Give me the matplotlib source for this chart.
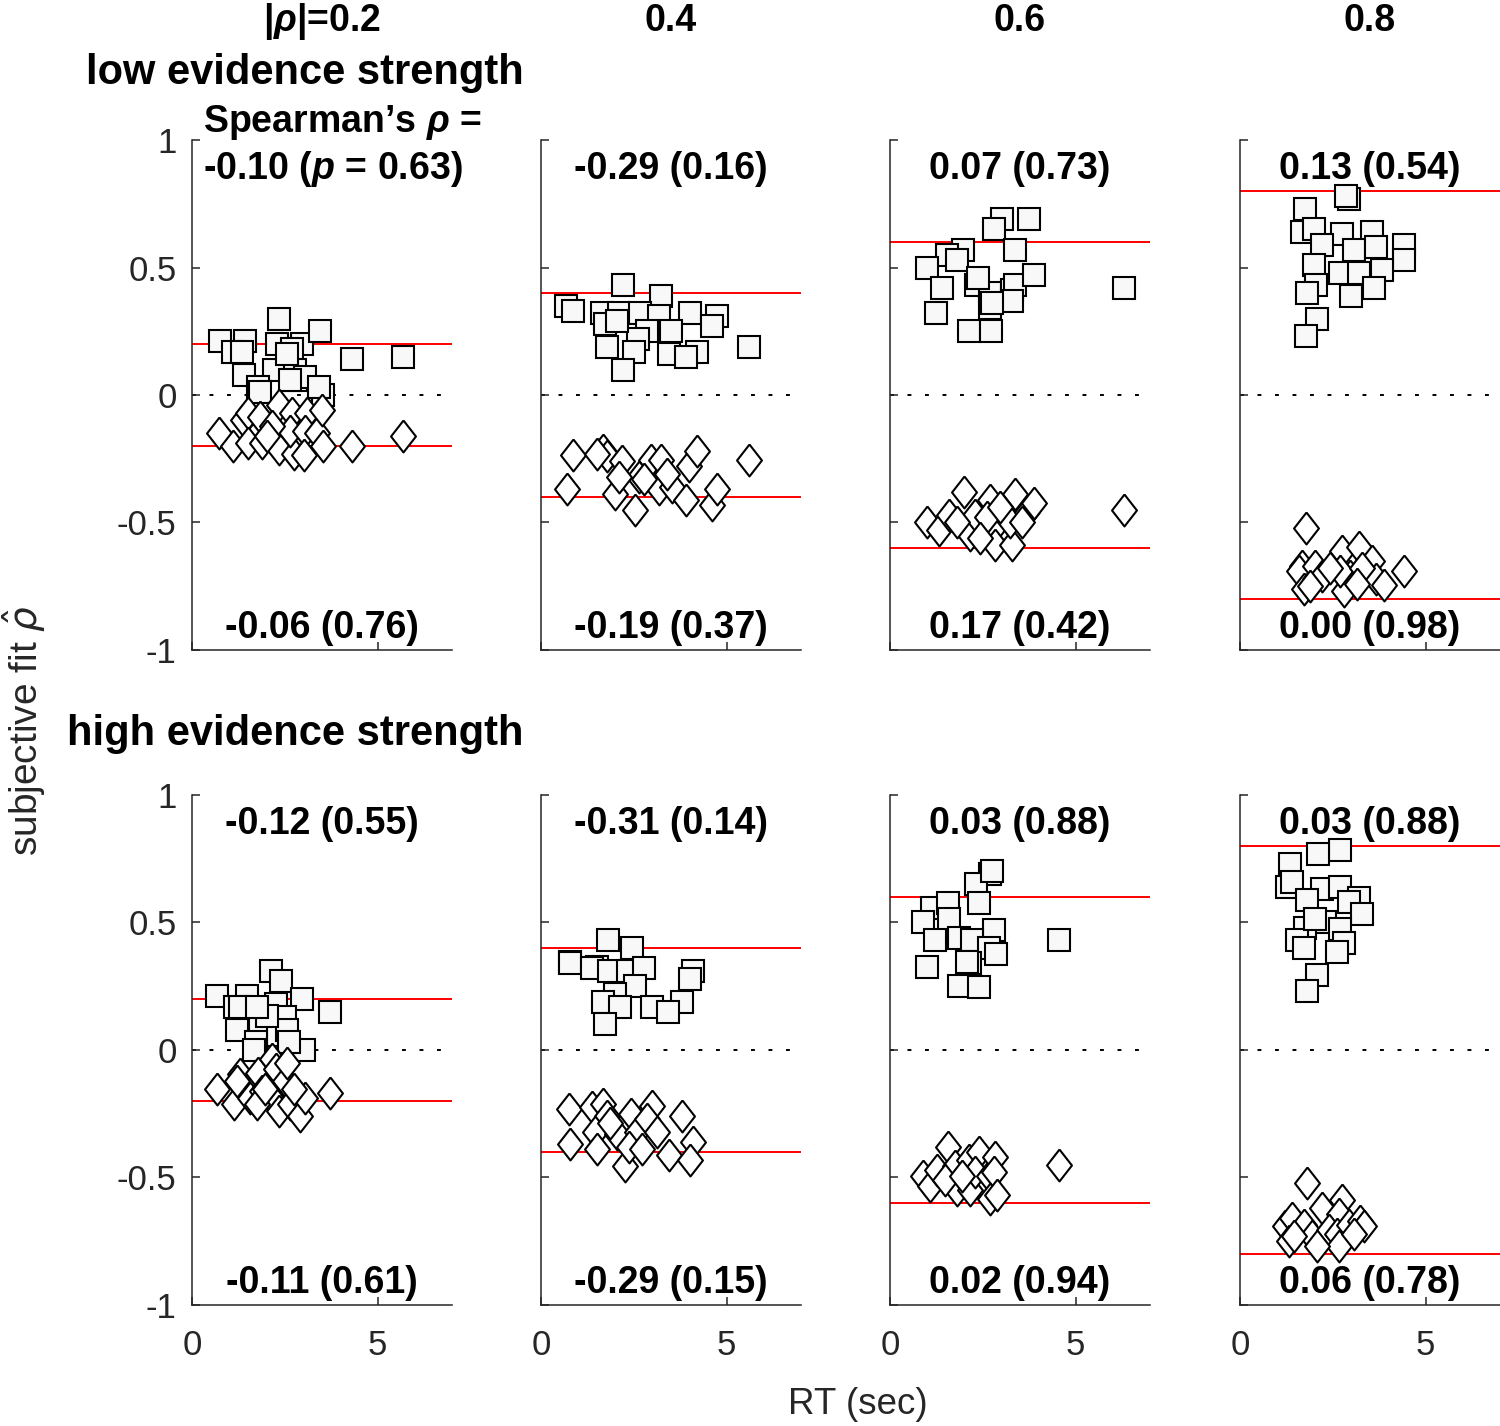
#! /usr/bin/env python

import matplotlib
matplotlib.use('Agg')
import matplotlib.pyplot as plt

# Subjective fit rho-hat against RT for each true |rho| and evidence
# strength; squares are positive-correlation trials, diamonds negative.


#=====================================================================
#     User variables
#
rhoLevels   = [0.2, 0.4, 0.6, 0.8]
colHeaders  = [r'|$\rho$|=0.2', '0.4', '0.6', '0.8']
rowTitles   = ['low evidence strength', 'high evidence strength']

# Spearman's rho (p) printed above (squares) and below (diamonds)
lowTopText  = ['-0.10 ($p$ = 0.63)', '-0.29 (0.16)', '0.07 (0.73)', '0.13 (0.54)']
lowBotText  = ['-0.06 (0.76)', '-0.19 (0.37)', '0.17 (0.42)', '0.00 (0.98)']
highTopText = ['-0.12 (0.55)', '-0.31 (0.14)', '0.03 (0.88)', '0.03 (0.88)']
highBotText = ['-0.11 (0.61)', '-0.29 (0.15)', '0.02 (0.94)', '0.06 (0.78)']

# low evidence, |rho| = 0.2
low02_sq_rt   = [2.35, 0.76, 1.43, 1.10, 1.34, 2.30, 2.96, 3.44, 2.68, 4.30, 5.67,
                 1.41, 2.20, 2.78, 2.81, 3.05, 1.79, 2.65, 3.53, 3.41, 2.56, 1.84]
low02_sq_fit  = [0.30, 0.21, 0.21, 0.17, 0.17, 0.20, 0.20, 0.25, 0.18, 0.14, 0.15,
                 0.08, 0.10, 0.10, 0.06, 0.07, 0.03, 0.06, 0.00, 0.03, 0.16, 0.01]
low02_di_rt   = [0.74, 1.10, 1.37, 1.52, 1.84, 1.52, 1.88, 2.33, 2.69, 3.10, 2.33,
                 2.74, 2.65, 3.05, 3.37, 3.53, 4.30, 5.67, 3.01, 2.15, 3.50, 2.02]
low02_di_fit  = [-0.15, -0.20, -0.10, -0.07, -0.085, -0.19, -0.19, -0.04, -0.07, -0.07, -0.21,
                 -0.23, -0.14, -0.14, -0.15, -0.20, -0.20, -0.16, -0.235, -0.12, -0.06, -0.16]

# low evidence, |rho| = 0.4
low04_sq_rt   = [0.68, 0.87, 2.21, 3.23, 1.64, 1.73, 2.09, 2.66, 3.17, 4.01, 4.75, 4.61,
                 3.49, 2.86, 2.60, 1.78, 2.49, 3.44, 4.19, 3.91, 5.60, 2.21, 2.05]
low04_sq_fit  = [0.35, 0.33, 0.43, 0.39, 0.32, 0.28, 0.32, 0.32, 0.31, 0.32, 0.31, 0.27,
                 0.25, 0.25, 0.22, 0.19, 0.17, 0.16, 0.17, 0.15, 0.19, 0.10, 0.29]
low04_di_rt   = [0.87, 0.69, 1.68, 1.78, 2.18, 2.00, 2.54, 2.63, 2.95, 3.22, 3.17,
                 3.53, 3.89, 3.98, 4.19, 4.61, 4.75, 5.60, 2.09, 2.76, 3.40, 1.50]
low04_di_fit  = [-0.235, -0.37, -0.215, -0.24, -0.26, -0.39, -0.45, -0.32, -0.255, -0.255, -0.37,
                 -0.36, -0.41, -0.28, -0.22, -0.43, -0.37, -0.255, -0.32, -0.33, -0.31, -0.23]

# low evidence, |rho| = 0.6
low06_sq_rt   = [3.02, 3.74, 2.79, 1.98, 1.53, 3.38, 1.80, 0.99, 1.40, 2.32, 2.70,
                 3.29, 3.38, 3.89, 6.31, 1.24, 2.70, 3.29, 2.14, 2.72, 2.36, 2.75]
low06_sq_fit  = [0.69, 0.69, 0.65, 0.57, 0.55, 0.57, 0.53, 0.50, 0.42, 0.43, 0.40,
                 0.41, 0.43, 0.47, 0.42, 0.32, 0.34, 0.37, 0.25, 0.25, 0.46, 0.36]
low06_di_rt   = [0.99, 1.31, 1.58, 2.00, 2.16, 2.30, 2.70, 2.75, 2.84, 3.29,
                 3.38, 3.24, 3.69, 3.87, 6.31, 1.80, 2.61, 2.97, 2.43, 3.56]
low06_di_fit  = [-0.50, -0.53, -0.47, -0.38, -0.55, -0.47, -0.41, -0.53, -0.59, -0.59,
                 -0.39, -0.50, -0.46, -0.425, -0.45, -0.50, -0.48, -0.44, -0.56, -0.50]

# low evidence, |rho| = 0.8
low08_sq_rt   = [2.93, 2.86, 1.76, 1.67, 1.98, 2.75, 3.56, 2.21, 3.06, 3.65, 4.41,
                 4.41, 1.98, 2.68, 3.20, 3.83, 2.05, 1.80, 2.99, 3.60, 2.07, 1.78]
low08_sq_fit  = [0.77, 0.78, 0.73, 0.64, 0.65, 0.63, 0.64, 0.59, 0.57, 0.58, 0.59,
                 0.53, 0.51, 0.48, 0.48, 0.49, 0.43, 0.40, 0.39, 0.42, 0.30, 0.23]
low08_di_rt   = [1.78, 1.67, 1.58, 1.71, 2.03, 2.03, 2.21, 2.75, 3.20, 3.56,
                 2.97, 2.79, 2.70, 3.65, 3.87, 4.41, 3.29, 2.43, 1.89, 3.15]
low08_di_fit  = [-0.52, -0.67, -0.69, -0.76, -0.72, -0.67, -0.71, -0.61, -0.595, -0.65,
                 -0.71, -0.77, -0.69, -0.72, -0.745, -0.69, -0.68, -0.68, -0.75, -0.74]

# high evidence, |rho| = 0.2
high02_sq_rt  = [2.13, 2.40, 0.67, 1.48, 1.16, 1.30, 2.27, 2.96, 3.71, 2.51,
                 1.84, 1.21, 2.31, 1.73, 1.66, 3.01, 2.56, 2.02, 1.75, 2.60]
high02_sq_fit = [0.31, 0.27, 0.21, 0.21, 0.17, 0.17, 0.18, 0.20, 0.15, 0.13,
                 0.10, 0.08, 0.06, 0.03, 0.00, 0.00, 0.08, 0.135, 0.17, 0.03]
high02_di_rt  = [0.67, 1.12, 1.30, 1.21, 1.79, 1.57, 2.15, 2.27, 2.51, 1.88,
                 2.11, 2.33, 2.65, 2.92, 3.05, 3.71, 1.75, 2.74, 2.56, 1.97]
high02_di_fit = [-0.155, -0.21, -0.095, -0.12, -0.09, -0.19, -0.035, -0.075, -0.12, -0.16,
                 -0.18, -0.24, -0.21, -0.26, -0.19, -0.17, -0.21, -0.155, -0.05, -0.155]

# high evidence, |rho| = 0.4
high04_sq_rt  = [1.80, 2.45, 0.77, 0.78, 1.50, 1.37, 1.82, 2.33, 2.76, 4.10,
                 4.01, 2.54, 2.00, 1.68, 2.12, 2.99, 3.80, 3.41, 1.71]
high04_sq_fit = [0.43, 0.40, 0.345, 0.34, 0.325, 0.32, 0.31, 0.31, 0.32, 0.31,
                 0.28, 0.25, 0.22, 0.19, 0.17, 0.17, 0.19, 0.15, 0.10]
high04_di_rt  = [0.74, 0.78, 1.37, 1.68, 1.78, 1.46, 1.51, 2.05, 2.27, 2.41, 2.59,
                 2.36, 2.99, 2.86, 3.13, 3.44, 3.80, 4.10, 4.01, 2.72, 1.86]
high04_di_fit = [-0.23, -0.37, -0.225, -0.21, -0.26, -0.32, -0.39, -0.33, -0.455, -0.25, -0.32,
                 -0.38, -0.22, -0.27, -0.32, -0.41, -0.26, -0.36, -0.43, -0.39, -0.285]

# high evidence, |rho| = 0.6
high06_sq_rt  = [2.70, 2.32, 1.13, 1.55, 2.39, 0.90, 1.58, 2.79, 1.22, 1.85,
                 2.21, 2.66, 2.86, 4.55, 1.01, 2.16, 2.07, 1.87, 2.41, 2.75]
high06_sq_fit = [0.69, 0.65, 0.555, 0.575, 0.575, 0.50, 0.515, 0.47, 0.43, 0.44,
                 0.43, 0.40, 0.375, 0.43, 0.325, 0.34, 0.345, 0.25, 0.245, 0.70]
high06_di_rt  = [0.90, 1.08, 1.26, 1.55, 1.80, 1.76, 2.12, 2.39, 2.16,
                 2.30, 2.66, 2.84, 2.79, 2.70, 2.88, 4.55, 1.49, 1.94]
high06_di_fit = [-0.495, -0.535, -0.47, -0.38, -0.55, -0.455, -0.43, -0.40, -0.55,
                 -0.48, -0.495, -0.42, -0.48, -0.585, -0.57, -0.45, -0.51, -0.495]

# high evidence, |rho| = 0.8
high08_sq_rt  = [2.68, 2.09, 1.35, 1.26, 1.40, 2.21, 2.70, 1.79, 3.20, 2.93, 3.29,
                 2.30, 1.76, 2.70, 1.53, 1.71, 2.79, 2.61, 2.07, 1.80, 2.03]
high08_sq_fit = [0.785, 0.77, 0.73, 0.64, 0.66, 0.63, 0.64, 0.59, 0.595, 0.58, 0.535,
                 0.50, 0.48, 0.475, 0.43, 0.40, 0.42, 0.385, 0.295, 0.23, 0.515]
high08_di_rt  = [1.80, 1.22, 1.40, 1.31, 1.71, 1.94, 2.21, 2.75, 2.66,
                 2.39, 2.61, 2.66, 2.93, 3.24, 3.35, 1.44, 2.07, 3.06]
high08_di_fit = [-0.52, -0.69, -0.66, -0.75, -0.685, -0.73, -0.62, -0.59, -0.645,
                 -0.705, -0.72, -0.77, -0.685, -0.67, -0.69, -0.73, -0.77, -0.72]
#=====================================================================


#=====================================================================
#     Code begins here
#
plt.rcParams['font.family'] = 'Liberation Sans'
plt.rcParams['mathtext.fontset'] = 'custom'
plt.rcParams['mathtext.it'] = 'Liberation Sans:bold:italic'
plt.rcParams['mathtext.rm'] = 'Liberation Sans:bold'
plt.rcParams['mathtext.bf'] = 'Liberation Sans:bold'

inkColor = '#262626'
boldSize = 27
tickSize = 25

# MATLAB-like diamond: taller than wide
diamond = [(0, 1), (0.78, 0), (0, -1), (-0.78, 0), (0, 1)]

panels = [
    [(low02_sq_rt, low02_sq_fit, low02_di_rt, low02_di_fit),
     (low04_sq_rt, low04_sq_fit, low04_di_rt, low04_di_fit),
     (low06_sq_rt, low06_sq_fit, low06_di_rt, low06_di_fit),
     (low08_sq_rt, low08_sq_fit, low08_di_rt, low08_di_fit)],
    [(high02_sq_rt, high02_sq_fit, high02_di_rt, high02_di_fit),
     (high04_sq_rt, high04_sq_fit, high04_di_rt, high04_di_fit),
     (high06_sq_rt, high06_sq_fit, high06_di_rt, high06_di_fit),
     (high08_sq_rt, high08_sq_fit, high08_di_rt, high08_di_fit)]]
topTexts = [lowTopText, highTopText]
botTexts = [lowBotText, highBotText]

# axes placement (fractions of the figure)
colLeft   = [0.128, 0.3607, 0.5933, 0.8267]
rowBottom = [0.5442, 0.0849]
axWidth   = 0.1733
axHeight  = 0.3576
#=====================================================================


#=====================================================================
#     Plotting
#
fig = plt.figure(figsize=(15, 14.26), dpi=100)

for r in range(2):
    for c in range(4):
        ax = fig.add_axes([colLeft[c], rowBottom[r], axWidth, axHeight])
        sqRT, sqFit, diRT, diFit = panels[r][c]
        rho = rhoLevels[c]

        ax.axhline(rho, color='r', lw=1.4, zorder=1)
        ax.axhline(-rho, color='r', lw=1.4, zorder=1)
        ax.axhline(0, color='k', lw=1.4, ls=(0, (2, 7)), zorder=1)

        ax.plot(sqRT, sqFit, ls='none', marker='s', ms=15.5, mfc='#f8f8f8',
                mec='k', mew=1.5, zorder=2)
        ax.plot(diRT, diFit, ls='none', marker=diamond, ms=23, mfc='white',
                mec='k', mew=1.5, zorder=3)

        ax.set_xlim(0, 7)
        ax.set_ylim(-1, 1)
        ax.set_xticks([0, 5])
        ax.set_yticks([-1, -0.5, 0, 0.5, 1])
        ax.set_yticklabels(['-1', '-0.5', '0', '0.5', '1'])
        ax.tick_params(axis='both', direction='in', length=6, width=1.1,
                       labelsize=tickSize, colors=inkColor)
        ax.tick_params(axis='x', pad=17)
        ax.tick_params(axis='y', pad=11)
        if c > 0:
            ax.tick_params(axis='y', labelleft=False)
        if r == 0:
            ax.tick_params(axis='x', labelbottom=False)
        for side in ['top', 'right']:
            ax.spines[side].set_visible(False)
        for side in ['left', 'bottom']:
            ax.spines[side].set_linewidth(1.1)
            ax.spines[side].set_color(inkColor)

        # Spearman correlations of RT with fit
        if r == 0 and c == 0:
            ax.text(0.3, 1.068, "Spearman\u2019s $\\rho$ =", fontsize=boldSize,
                    fontweight='bold', ha='left', va='center')
            ax.text(0.3, 0.885, topTexts[r][c], fontsize=boldSize,
                    fontweight='bold', ha='left', va='center')
        else:
            ax.text(3.5, 0.885, topTexts[r][c], fontsize=boldSize,
                    fontweight='bold', ha='center', va='center')
        ax.text(3.5, -0.915, botTexts[r][c], fontsize=boldSize,
                fontweight='bold', ha='center', va='center')

        if r == 0:
            ax.text(3.5, 1.466, colHeaders[c], fontsize=boldSize,
                    fontweight='bold', ha='center', va='center')
        if c == 0:
            ax.text(8.92, 1.262 if r == 0 else 1.24, rowTitles[r],
                    fontsize=30, fontweight='bold', ha='right', va='center')

fig.text(0.572, 1 - 1405/1426., 'RT (sec)', fontsize=26.5, color=inkColor,
         ha='center', va='center')
fig.text(0.016, 0.488, r'subjective fit $\hat{\rho}$', fontsize=28,
         color=inkColor, rotation=90, ha='center', va='center',
         math_fontfamily='dejavusans')

plt.savefig('out.png', dpi=100)
#=====================================================================
